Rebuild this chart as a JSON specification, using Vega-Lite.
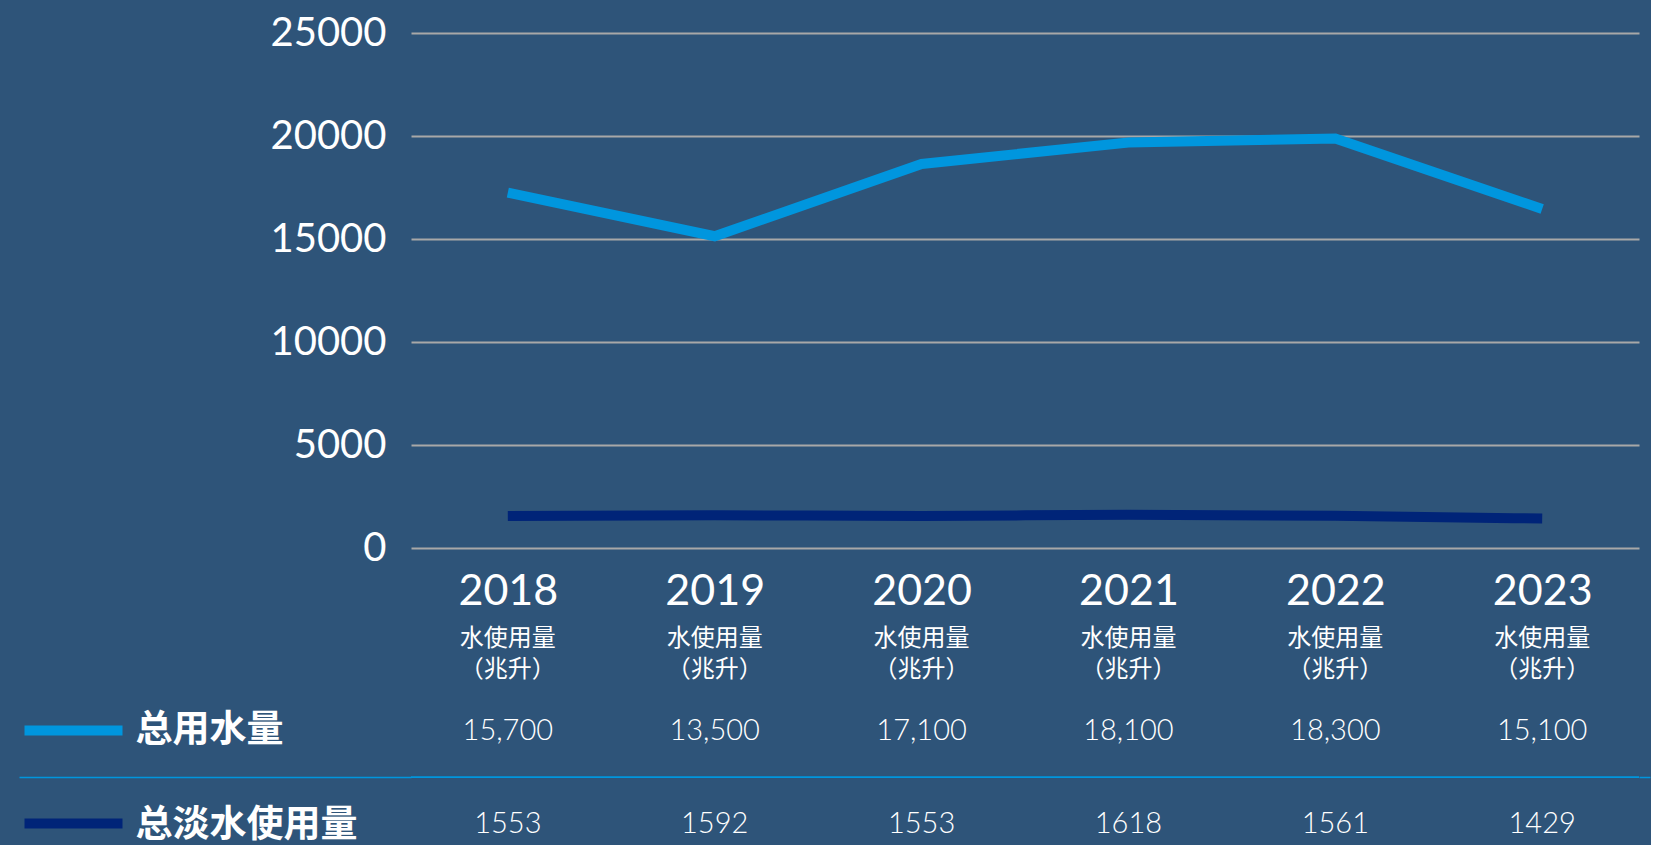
{
  "$schema": "https://vega.github.io/schema/vega-lite/v6.json",
  "background": "#2E5479",
  "padding": {"left": 18, "top": 13, "right": 0, "bottom": 3},
  "spacing": 13,
  "config": {"view": {"stroke": null}, "font": "Lato"},
  "datasets": {
    "water": [
      {"year": "2018", "series": "总用水量", "plot": 17250, "label": "15,700"},
      {"year": "2019", "series": "总用水量", "plot": 15136, "label": "13,500"},
      {"year": "2020", "series": "总用水量", "plot": 18641, "label": "17,100"},
      {"year": "2021", "series": "总用水量", "plot": 19689, "label": "18,100"},
      {"year": "2022", "series": "总用水量", "plot": 19883, "label": "18,300"},
      {"year": "2023", "series": "总用水量", "plot": 16456, "label": "15,100"},
      {"year": "2018", "series": "总淡水使用量", "plot": 1553, "label": "1553"},
      {"year": "2019", "series": "总淡水使用量", "plot": 1592, "label": "1592"},
      {"year": "2020", "series": "总淡水使用量", "plot": 1553, "label": "1553"},
      {"year": "2021", "series": "总淡水使用量", "plot": 1618, "label": "1618"},
      {"year": "2022", "series": "总淡水使用量", "plot": 1561, "label": "1561"},
      {"year": "2023", "series": "总淡水使用量", "plot": 1429, "label": "1429"}
    ]
  },
  "vconcat": [
    {
      "width": 1228,
      "height": 515,
      "data": {"name": "water"},
      "encoding": {
        "x": {
          "field": "year", "type": "ordinal",
          "scale": {"type": "point", "padding": 0.468, "domain": ["2018", "2019", "2020", "2021", "2022", "2023"]},
          "axis": {"labelFontSize": 43, "labelColor": "#FFFFFF", "labelPadding": 22, "ticks": false, "tickSize": 0, "domain": false, "labelAngle": 0, "title": null, "grid": false, "labelFont": "Lato"}
        },
        "y": {
          "field": "plot", "type": "quantitative",
          "scale": {"domain": [0, 25000], "nice": false},
          "axis": {"values": [0, 5000, 10000, 15000, 20000, 25000], "format": "d", "labelFontSize": 40, "labelColor": "#FFFFFF", "labelPadding": 25, "ticks": false, "tickSize": 0, "domain": false, "grid": true, "gridColor": "#A8A8A8", "gridWidth": 2, "title": null, "labelFont": "Lato"}
        },
        "color": {
          "field": "series", "type": "nominal",
          "scale": {"domain": ["总用水量", "总淡水使用量"], "range": ["#0096DE", "#002478"]},
          "legend": null
        }
      },
      "layer": [
        {
          "transform": [{"filter": "datum.series === '总用水量'"}],
          "mark": {"type": "line", "strokeWidth": 10, "strokeCap": "butt", "strokeJoin": "miter"}
        },
        {
          "transform": [{"filter": "datum.series === '总淡水使用量'"}],
          "mark": {"type": "line", "strokeWidth": 10, "strokeCap": "butt", "interpolate": "monotone"}
        }
      ]
    },
    {
      "width": 1228,
      "height": 201.5,
      "data": {"name": "water"},
      "resolve": {"axis": {"y": "independent"}},
      "layer": [
        {
          "transform": [{"filter": "datum.series === '总用水量'"}],
          "mark": {"type": "text", "text": "水使用量", "font": "Noto Sans CJK SC", "fontSize": 24, "color": "#FFFFFF", "baseline": "middle", "dy": 1},
          "encoding": {
            "x": {"field": "year", "type": "ordinal", "scale": {"type": "point", "padding": 0.468, "domain": ["2018", "2019", "2020", "2021", "2022", "2023"]}, "axis": null},
            "y": {"datum": "u1", "type": "nominal", "axis": null, "scale": {"domain": ["u1", "b1", "u2", "b3", "b4", "b5", "总用水量", "b7", "b8", "sep", "b10", "b11", "总淡水使用量"], "paddingInner": 0, "paddingOuter": 0}}
          }
        },
        {
          "transform": [{"filter": "datum.series === '总用水量'"}],
          "mark": {"type": "text", "text": "（兆升）", "font": "Noto Sans CJK SC", "fontSize": 24, "color": "#FFFFFF", "baseline": "middle", "dy": 1},
          "encoding": {
            "x": {"field": "year", "type": "ordinal", "axis": null},
            "y": {"datum": "u2", "type": "nominal", "axis": null}
          }
        },
        {
          "mark": {"type": "text", "font": "Lato", "fontWeight": 300, "fontSize": 29, "color": "#FFFFFF", "baseline": "middle"},
          "encoding": {
            "x": {"field": "year", "type": "ordinal", "axis": null},
            "y": {
              "field": "series", "type": "nominal",
              "axis": {
                "orient": "left",
                "values": ["总用水量", "总淡水使用量"],
                "title": null, "domain": false, "grid": false,
                "offset": 289, "tickSize": 98, "tickWidth": 10, "tickCap": "butt",
                "tickColor": {"condition": {"test": "datum.value === '总用水量'", "value": "#0096DE"}, "value": "#002478"},
                "labelAlign": "left", "labelPadding": -111,
                "labelOffset": {"condition": {"test": "datum.value === '总用水量'", "value": 0}, "value": 2},
                "labelLimit": 500,
                "labelFont": "Noto Sans CJK SC", "labelFontSize": 37, "labelFontWeight": "bold", "labelColor": "#FFFFFF"
              }
            },
            "text": {"field": "label", "type": "nominal"}
          }
        },
        {
          "data": {"values": [{}]},
          "mark": {"type": "rule", "color": "#0096DE", "strokeWidth": 1.5},
          "encoding": {
            "y": {
              "datum": "sep", "type": "nominal",
              "axis": {"orient": "left", "values": ["sep"], "offset": 0, "title": null, "domain": false, "grid": false, "labels": false, "tickSize": 392, "tickWidth": 1.5, "tickColor": "#0096DE"}
            }
          }
        },
        {
          "data": {"values": [{}]},
          "mark": {"type": "rule", "color": "#0096DE", "strokeWidth": 1.5},
          "encoding": {
            "y": {
              "datum": "sep", "type": "nominal",
              "axis": {"orient": "right", "values": ["sep"], "offset": 0, "title": null, "domain": false, "grid": false, "labels": false, "tickSize": 11, "tickWidth": 1.5, "tickColor": "#0096DE"}
            }
          }
        }
      ]
    }
  ]
}
